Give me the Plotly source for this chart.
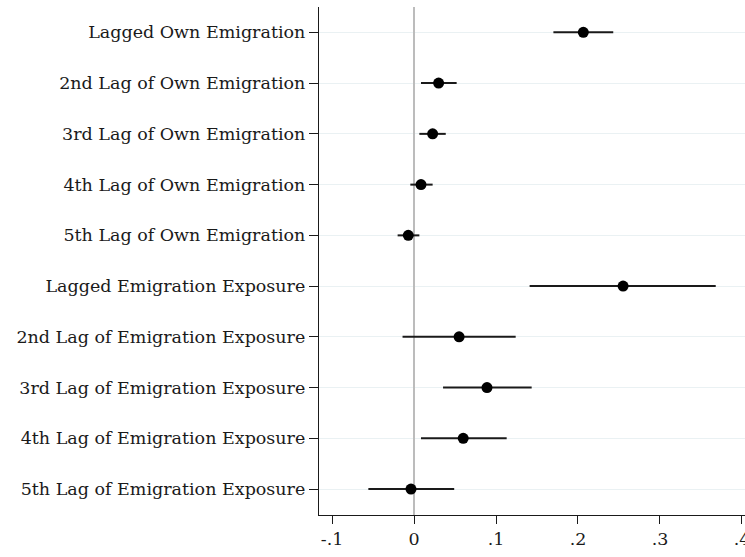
import plotly.graph_objects as go

labels = [
    "Lagged Own Emigration",
    "2nd Lag of Own Emigration",
    "3rd Lag of Own Emigration",
    "4th Lag of Own Emigration",
    "5th Lag of Own Emigration",
    "Lagged Emigration Exposure",
    "2nd Lag of Emigration Exposure",
    "3rd Lag of Emigration Exposure",
    "4th Lag of Emigration Exposure",
    "5th Lag of Emigration Exposure",
]
coef = [0.2065, 0.030, 0.0227, 0.0085, -0.0070, 0.255, 0.055, 0.089, 0.060, -0.0037]
ci_low = [0.170, 0.0085, 0.0065, -0.0045, -0.020, 0.141, -0.014, 0.0354, 0.0085, -0.0557]
ci_high = [0.243, 0.052, 0.0387, 0.0227, 0.0065, 0.368, 0.124, 0.1435, 0.113, 0.049]
x_ticks = [-0.1, 0, 0.1, 0.2, 0.3, 0.4]
x_tick_text = ["-.1", "0", ".1", ".2", ".3", ".4"]

ypos = list(range(1, len(labels) + 1))
plus = [h - c for h, c in zip(ci_high, coef)]
minus = [c - l for c, l in zip(coef, ci_low)]

font_family = "DejaVu Serif, Liberation Serif, serif"

fig = go.Figure()
fig.add_trace(go.Scatter(
    x=coef, y=ypos, mode="markers",
    marker=dict(color="black", size=11),
    error_x=dict(type="data", symmetric=False, array=plus, arrayminus=minus,
                 color="#1a1a1a", thickness=2, width=0),
    showlegend=False, hoverinfo="skip",
))

fig.update_layout(
    width=745, height=557,
    margin=dict(l=319, r=0, t=7, b=42),
    paper_bgcolor="white", plot_bgcolor="white",
    font=dict(family=font_family, size=17.5, color="#1a1a1a"),
    xaxis=dict(
        range=[-0.1159, 0.4037],
        automargin=False,
        tickmode="array", tickvals=x_ticks, ticktext=x_tick_text,
        ticklabeloverflow="allow",
        showgrid=False, zeroline=True, zerolinecolor="#bcbcbc", zerolinewidth=1.5,
        showline=True, linecolor="#1a1a1a", linewidth=1.3,
        ticks="outside", ticklen=8, tickcolor="#1a1a1a", tickwidth=1.3,
        tickfont=dict(size=17.5),
    ),
    yaxis=dict(
        range=[10.51, 0.5],
        automargin=False,
        tickmode="array", tickvals=ypos, ticktext=labels,
        showgrid=True, gridcolor="#eaf1f3", gridwidth=1,
        zeroline=False,
        showline=True, linecolor="#1a1a1a", linewidth=1.3,
        ticks="outside", ticklen=9, tickcolor="#1a1a1a", tickwidth=1.3,
        tickfont=dict(size=17.5),
    ),
)

fig.write_html("out.html")
